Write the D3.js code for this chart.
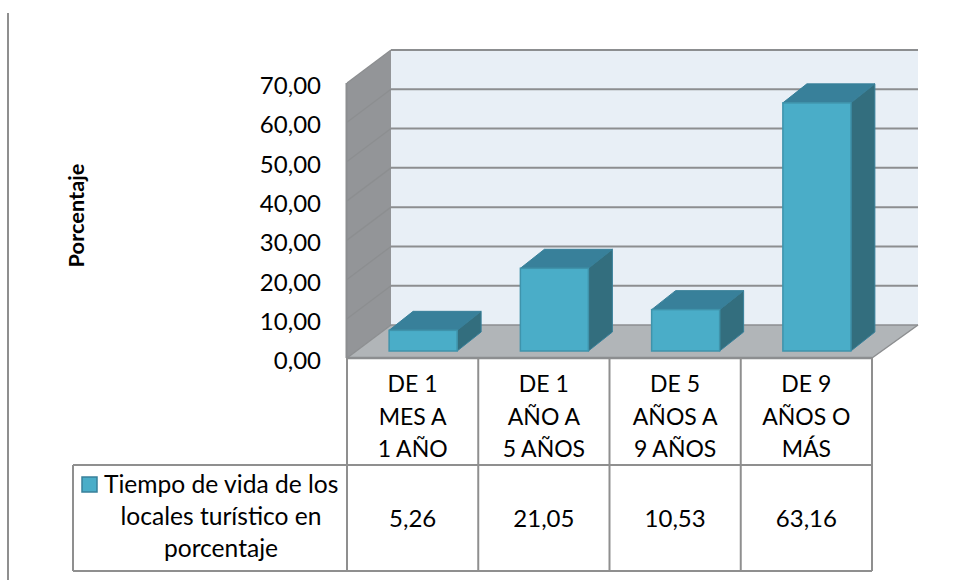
<!DOCTYPE html>
<html><head><meta charset="utf-8">
<script src="https://cdn.jsdelivr.net/npm/d3@7"></script>
<style>html,body{margin:0;padding:0;background:#fff}svg{display:block}text{font-family:Lato,"Open Sans",sans-serif;fill:#000;font-weight:400}</style>
</head><body><svg id="c" width="955" height="580"></svg>
<script>
const categories = ["DE 1 MES A 1 AÑO","DE 1 AÑO A 5 AÑOS","DE 5 AÑOS A 9 AÑOS","DE 9 AÑOS O MÁS"];
const categoryLines = [["DE 1","MES A","1 AÑO"],["DE 1","AÑO A","5 AÑOS"],["DE 5","AÑOS A","9 AÑOS"],["DE 9","AÑOS O","MÁS"]];
const values = [5.26,21.05,10.53,63.16];
const valueLabels = ["5,26","21,05","10,53","63,16"];
const yTicks = [0,10,20,30,40,50,60,70];
const seriesLines = ["Tiempo de vida de los","locales turístico en","porcentaje"];
const yTitle = "Porcentaje";

const svg = d3.select("#c");
const fsTick = 24, fsCat = 23, fsLegend = 24.6;
const fmt = d => d3.format(".2f")(d).replace(".", ",");
const grid = "#8c8e90";

const x = d3.scaleBand().domain(categories).range([347,872]);
const yFront = d3.scaleLinear().domain([0,70]).range([358,83]);
const yBack = d3.scaleLinear().domain([0,70]).range([325,50]);
const yBar = d3.scaleLinear().domain([0,70]).range([351,76]);
const barW = 68, barShift = 10.5, depthX = 24, depthY = 19;
const poly = pts => pts.map(p=>p.join(",")).join(" ");

// back wall
svg.append("rect").attr("x",391).attr("y",yBack(70)).attr("width",527).attr("height",yBack(0)-yBack(70)).attr("fill","#e8eff6");
// side wall
svg.append("polygon").attr("points",poly([[347,yFront(70)],[391,yBack(70)],[391,yBack(0)],[347,yFront(0)]])).attr("fill","#939598");
// floor
svg.append("polygon").attr("points",poly([[347,358],[391,325],[918,325],[872,358]])).attr("fill","#b1b5b8");

// gridlines
yTicks.forEach(t=>{
  svg.append("line").attr("x1",391).attr("x2",918).attr("y1",yBack(t)).attr("y2",yBack(t)).attr("stroke",grid).attr("stroke-width",t===0?1.5:2);
  svg.append("line").attr("x1",347).attr("x2",391).attr("y1",yFront(t)).attr("y2",yBack(t)).attr("stroke",grid).attr("stroke-width",1.3);
});
svg.append("line").attr("x1",346.5).attr("x2",346.5).attr("y1",yFront(70)).attr("y2",yFront(0)).attr("stroke",grid).attr("stroke-width",2);
svg.append("line").attr("x1",872).attr("x2",918).attr("y1",358).attr("y2",325).attr("stroke",grid).attr("stroke-width",1.5);
svg.append("line").attr("x1",346).attr("x2",872).attr("y1",358).attr("y2",358).attr("stroke",grid).attr("stroke-width",2.5);

// bars
const bars = svg.selectAll("g.bar").data(values).join("g").attr("class","bar");
const bx = (d,i)=> x(categories[i]) + x.bandwidth()/2 + barShift - barW/2;
bars.append("polygon").attr("points",(d,i)=>{const l=bx(d,i),t=yBar(d);return poly([[l,t],[l+depthX,t-depthY],[l+barW+depthX,t-depthY],[l+barW,t]]);})
  .attr("fill","#38809a").attr("stroke","#38809a");
bars.append("polygon").attr("points",(d,i)=>{const l=bx(d,i)+barW,t=yBar(d),b=yBar(0);return poly([[l,t],[l+depthX,t-depthY],[l+depthX,b-depthY],[l,b]]);})
  .attr("fill","#336e7e").attr("stroke","#38809a");
bars.append("rect").attr("x",(d,i)=>bx(d,i)).attr("y",d=>yBar(d)).attr("width",barW).attr("height",d=>yBar(0)-yBar(d))
  .attr("fill","#4aadc8").attr("stroke","#3f93ab").attr("stroke-width",1.5);

// y axis labels
const yAxis = d3.axisLeft(yFront).tickValues(yTicks).tickFormat(fmt).tickSize(0).tickPadding(0);
const ax = svg.append("g").attr("transform","translate(321,3)").call(yAxis);
ax.select(".domain").remove();
ax.selectAll("text").attr("font-size",fsTick).style("font-family",'Lato,"Open Sans",sans-serif').attr("fill","#000");

// y title
svg.append("text").attr("transform","translate(84,215.5) rotate(-90)").attr("text-anchor","middle").attr("font-size",21.8).style("font-weight",700).text(yTitle);

// data table
const tableTop=358, rowMid=465, tableBottom=571, legendLeft=73;
const tableStroke="#8f8f8f";
const tl=(a,b,c,d,w=2)=>svg.append("line").attr("x1",a).attr("y1",b).attr("x2",c).attr("y2",d).attr("stroke",tableStroke).attr("stroke-width",w);
const edges=[...categories.map(c=>x(c)),x.range()[1]];
edges.forEach(e=>tl(e,tableTop,e,tableBottom));
tl(legendLeft,rowMid,x.range()[1],rowMid);
tl(legendLeft,tableBottom,x.range()[1],tableBottom);
tl(legendLeft,rowMid,legendLeft,tableBottom);

categories.forEach((c,i)=>{
  const cx=x(c)+x.bandwidth()/2;
  categoryLines[i].forEach((ln,j)=>{
    svg.append("text").attr("x",cx).attr("y",392+j*32.5).attr("text-anchor","middle").attr("font-size",fsCat).text(ln);
  });
  svg.append("text").attr("x",cx).attr("y",527).attr("text-anchor","middle").attr("font-size",fsTick).text(valueLabels[i]);
});

// legend
svg.append("rect").attr("x",82).attr("y",477).attr("width",15).attr("height",15).attr("fill","#4aadc8").attr("stroke","#38809a").attr("stroke-width",1.5);
[[104,493],[221,525],[221,557]].forEach((p,j)=>{
  svg.append("text").attr("x",p[0]).attr("y",p[1]).attr("text-anchor",j===0?"start":"middle").attr("font-size",fsLegend).text(seriesLines[j]);
});

// left frame line
svg.append("line").attr("x1",8).attr("x2",8).attr("y1",13).attr("y2",580).attr("stroke","#8f8f8f").attr("stroke-width",2);
</script></body></html>
